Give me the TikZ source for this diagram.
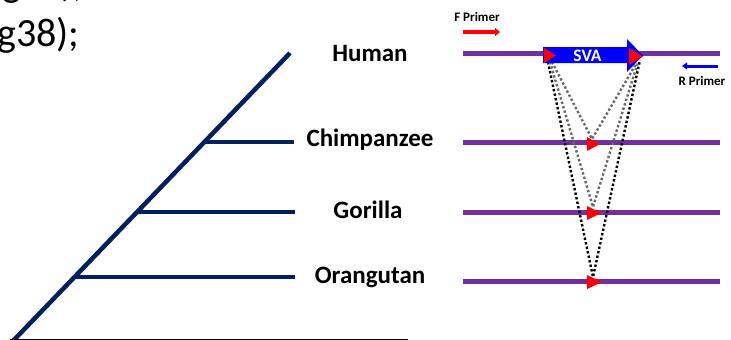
\documentclass[tikz,border=0pt]{standalone}
\usepackage{fontspec}
\setmainfont{Carlito}
\usetikzlibrary{arrows.meta}
\definecolor{treenavy}{RGB}{0,32,96}
\definecolor{dnapurple}{RGB}{112,48,160}
\definecolor{dotgray}{RGB}{105,105,105}

\begin{document}
\begin{tikzpicture}[x=1pt,y=-1pt,
  branch/.style={draw=treenavy,line width=4.5pt},
  species/.style={font=\fontsize{25}{25}\selectfont\bfseries,inner sep=0pt},
  dna/.style={draw=dnapurple,line width=5pt},
  insertmark/.style={fill=red},
  blackdots/.style={draw=black,line width=2.4pt,dash pattern=on 2.4pt off 2.2pt},
  graydots/.style={draw=dotgray,line width=2.4pt,dash pattern=on 2.4pt off 2.2pt},
  primerlabel/.style={font=\fontsize{13}{13}\selectfont\bfseries,inner sep=0pt},
  bodytext/.style={font=\fontsize{40}{48}\selectfont,inner sep=0pt,anchor=base west},
]
\useasboundingbox (0,0) rectangle (731,340);
\clip (0,0) rectangle (731,340);

% running text cut by the frame
\node[bodytext] (lineA) at (2,-4) {g37),};
\node[bodytext] (lineB) at (-3,46) {g38);};

% phylogenetic tree
\coordinate (root) at (12,342);
\coordinate (tip) at (290,53);
\coordinate (jC) at (204.4,142);
\coordinate (jG) at (137,212);
\coordinate (jO) at (74.5,277);
\coordinate (eC) at (294,142);
\coordinate (eG) at (295,212);
\coordinate (eO) at (295,277);
\draw[branch] (root) -- (tip);
\draw[branch] (jC) -- (eC);
\draw[branch] (jG) -- (eG);
\draw[branch] (jO) -- (eO);

\coordinate (baseL) at (10,339.5);
\coordinate (baseR) at (408,339.5);
\draw[black,line width=1pt] (baseL) -- (baseR);

\node[species] (human) at (370,53) {Human};
\node[species] (chimp) at (370,140) {Chimpanzee};
\node[species] (gorilla) at (368,210) {Gorilla};
\node[species] (orang) at (370,277) {Orangutan};

% genomic loci
\coordinate (hL) at (463,53);  \coordinate (hR) at (720,53);
\coordinate (cL) at (463,142); \coordinate (cR) at (720,142);
\coordinate (gL) at (463,212); \coordinate (gR) at (720,212);
\coordinate (oL) at (463,281); \coordinate (oR) at (720,281);
\draw[dna] (hL) -- (hR);
\draw[dna] (cL) -- (cR);
\draw[dna] (gL) -- (gR);
\draw[dna] (oL) -- (oR);

% insertion boundaries mapped onto the other genomes
\coordinate (sBl) at (548,62);  \coordinate (sBr) at (640,60);
\coordinate (sGl) at (550,62);  \coordinate (sGr) at (638,62);
\coordinate (sCl) at (552,62);  \coordinate (sCr) at (636,64);
\coordinate (apexO) at (593,277);
\coordinate (apexG) at (593,207);
\coordinate (apexC) at (592,139);
\draw[blackdots] (sBl) -- (apexO) -- (sBr);
\draw[graydots] (sGl) -- (apexG) -- (sGr);
\draw[graydots] (sCl) -- (apexC) -- (sCr);

% SVA element
\fill[blue] (543,47) -- (627,47) -- (627,39) -- (643,55.5) -- (627,72) -- (627,63) -- (543,63) -- cycle;
\node[text=white,font=\fontsize{17.5}{17.5}\selectfont\bfseries,inner sep=0pt] (sva) at (587.5,55.7) {SVA};

% target site markers
\fill[insertmark] (544,48) -- (556,55.5) -- (544,63) -- cycle;
\fill[insertmark] (629,48) -- (643,56.5) -- (629,65) -- cycle;
\fill[insertmark] (587,137) -- (600,144) -- (587,151) -- cycle;
\fill[insertmark] (587,206) -- (601,213) -- (587,220) -- cycle;
\fill[insertmark] (587,275) -- (602,282) -- (587,289) -- cycle;

% primers
\node[primerlabel] (fp) at (477,17) {F Primer};
\coordinate (fpA) at (463,32); \coordinate (fpB) at (500,32);
\draw[red,line width=3.5pt,-{Triangle[length=5pt,width=8pt]}] (fpA) -- (fpB);
\node[primerlabel] (rp) at (702,81) {R Primer};
\coordinate (rpA) at (718,66); \coordinate (rpB) at (682,66);
\draw[blue,line width=3pt,-{Triangle[length=5pt,width=7pt]}] (rpA) -- (rpB);
\end{tikzpicture}
\end{document}
